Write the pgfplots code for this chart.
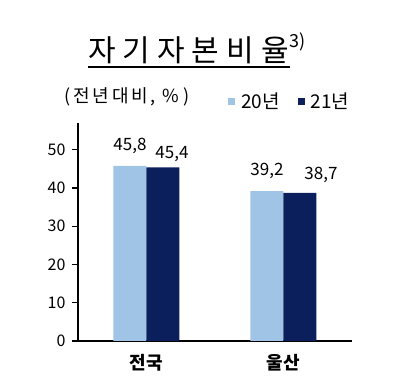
\documentclass[border=0pt]{standalone}
\usepackage{fontspec}
\setmainfont{Noto Sans CJK KR}
\usepackage{pgfplots}
\usepackage{pgfplotstable}
\pgfplotsset{compat=1.18}
\definecolor{lb}{RGB}{160,196,230}
\definecolor{nv}{RGB}{10,31,92}
\pgfplotstableread{
x y dx dy
0 45.8 0 9
1 39.2 0 9
}\ta
\pgfplotstableread{
x y dx dy
0 45.4 9 2
1 38.7 21 7
}\tb
\pgfplotsset{lbl/.style={
 nodes near coords={\pgfmathprintnumber[fixed,precision=1,fixed zerofill,use comma]{\pgfplotspointmeta}},
 visualization depends on={\thisrow{dx}\as\dx},
 visualization depends on={\thisrow{dy}\as\dy},
 every node near coord/.append style={font=\fontsize{17}{19}\selectfont, anchor=south, black, xshift=\dx, yshift=\dy},
}}
\begin{document}
\begin{tikzpicture}[x=1pt,y=1pt]
\path[use as bounding box] (0,0) rectangle (416,380);
\node[font=\fontsize{30}{32}\selectfont, anchor=base west, inner sep=0] at (88,318) {자\hspace{7pt}기\hspace{7pt}자\hspace{7pt}본\hspace{7pt}비\hspace{7pt}율};
\node[font=\fontsize{18}{20}\selectfont, anchor=base west, inner sep=0] at (289,332) {3)};
\draw[line width=1.3pt] (88,313) -- (290,313);
\node[font=\fontsize{18}{20}\selectfont, anchor=west, inner sep=0] at (64,283) {(\hspace{3pt}전\hspace{3pt}년\hspace{3pt}대\hspace{3pt}비\hspace{2pt},\hspace{7pt}\%\hspace{4pt})};
\begin{axis}[
 at={(78pt,39pt)}, anchor=south west, scale only axis,
 width=274pt, height=218pt,
 xmin=-0.5, xmax=1.5, ymin=0, ymax=57,
 axis x line*=bottom, axis y line*=left,
 axis line style={-, line width=1.2pt},
 ytick={0,10,...,50}, tick align=outside, major tick length=6pt,
 tick style={line width=1.2pt, black},
 xtick={0,1}, xticklabels={전국,울산}, x tick style={draw=none},
 xticklabel style={font=\fontsize{18}{20}\selectfont\bfseries, yshift=-4pt},
 yticklabel style={font=\fontsize{16}{18}\selectfont, xshift=-3pt},
 /pgf/number format/assume math mode=true,
 ybar=0pt, bar width=33pt,
 legend columns=2,
 legend style={draw=none, fill=none, at={(0.547,1.15)}, anchor=north west, font=\fontsize{19}{21}\selectfont, column sep=4pt, inner sep=0pt, /tikz/every even column/.append style={column sep=16pt}},
 legend image code/.code={\fill[#1] (0pt,-3.5pt) rectangle (7pt,3.5pt);},
]
\addplot[fill=lb, draw=none, lbl] table[x=x,y=y] {\ta};
\addplot[fill=nv, draw=none, lbl] table[x=x,y=y] {\tb};
\legend{20년,21년}
\end{axis}
\end{tikzpicture}
\end{document}
